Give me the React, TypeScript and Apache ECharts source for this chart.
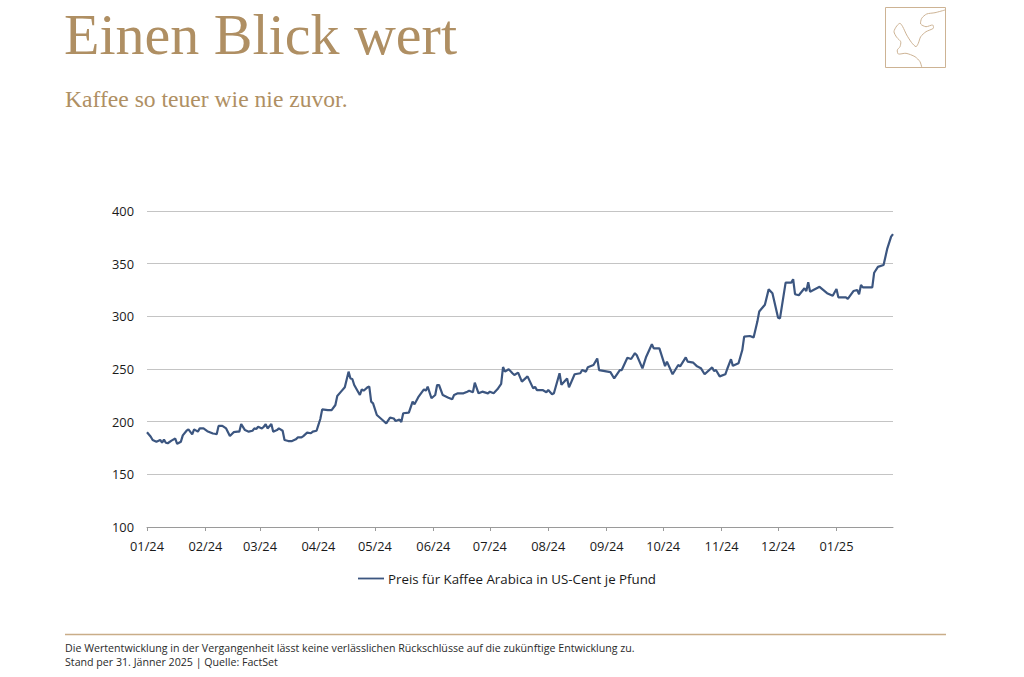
import React, { useEffect, useRef } from "react";
import * as echarts from "echarts";

const dates: string[] = [
  "2024-01-01","2024-01-03","2024-01-04","2024-01-06","2024-01-08","2024-01-09","2024-01-10","2024-01-11","2024-01-12","2024-01-14",
  "2024-01-16","2024-01-17","2024-01-19","2024-01-20","2024-01-22","2024-01-23","2024-01-25","2024-01-26","2024-01-28","2024-01-29",
  "2024-01-31","2024-02-02","2024-02-05","2024-02-06","2024-02-07","2024-02-08","2024-02-10","2024-02-12","2024-02-14","2024-02-16",
  "2024-02-18","2024-02-19","2024-02-20","2024-02-22","2024-02-24","2024-02-26","2024-02-27","2024-02-28","2024-02-29","2024-03-02",
  "2024-03-03","2024-03-04","2024-03-05","2024-03-07","2024-03-08","2024-03-10","2024-03-11","2024-03-13","2024-03-14","2024-03-16",
  "2024-03-18","2024-03-20","2024-03-21","2024-03-23","2024-03-24","2024-03-26","2024-03-28","2024-03-29","2024-03-31","2024-04-01",
  "2024-04-02","2024-04-03","2024-04-06","2024-04-08","2024-04-10","2024-04-11","2024-04-13","2024-04-15","2024-04-17","2024-04-18",
  "2024-04-19","2024-04-20","2024-04-23","2024-04-24","2024-04-25","2024-04-27","2024-04-28","2024-04-29","2024-04-30","2024-05-02",
  "2024-05-05","2024-05-07","2024-05-09","2024-05-11","2024-05-12","2024-05-14","2024-05-15","2024-05-16","2024-05-19","2024-05-21",
  "2024-05-22","2024-05-24","2024-05-27","2024-05-28","2024-05-29","2024-05-31","2024-06-02","2024-06-03","2024-06-04","2024-06-06",
  "2024-06-09","2024-06-11","2024-06-12","2024-06-14","2024-06-17","2024-06-19","2024-06-20","2024-06-22","2024-06-23","2024-06-25",
  "2024-06-27","2024-06-30","2024-07-01","2024-07-03","2024-07-05","2024-07-07","2024-07-08","2024-07-09","2024-07-11","2024-07-13",
  "2024-07-14","2024-07-16","2024-07-18","2024-07-21","2024-07-24","2024-07-25","2024-07-26","2024-07-29","2024-07-31","2024-08-01",
  "2024-08-03","2024-08-04","2024-08-07","2024-08-08","2024-08-11","2024-08-12","2024-08-15","2024-08-18","2024-08-19","2024-08-21",
  "2024-08-22","2024-08-25","2024-08-27","2024-08-28","2024-09-03","2024-09-05","2024-09-08","2024-09-09","2024-09-12","2024-09-14",
  "2024-09-16","2024-09-17","2024-09-20","2024-09-22","2024-09-25","2024-09-26","2024-09-29","2024-10-02","2024-10-03","2024-10-06",
  "2024-10-09","2024-10-10","2024-10-13","2024-10-14","2024-10-17","2024-10-19","2024-10-21","2024-10-23","2024-10-27","2024-10-28",
  "2024-10-29","2024-10-31","2024-11-03","2024-11-04","2024-11-06","2024-11-07","2024-11-10","2024-11-12","2024-11-13","2024-11-16",
  "2024-11-18","2024-11-20","2024-11-21","2024-11-24","2024-11-26","2024-11-28","2024-12-01","2024-12-02","2024-12-05","2024-12-08",
  "2024-12-09","2024-12-10","2024-12-12","2024-12-15","2024-12-16","2024-12-17","2024-12-18","2024-12-23","2024-12-27","2024-12-30",
  "2025-01-01","2025-01-02","2025-01-06","2025-01-07","2025-01-10","2025-01-12","2025-01-13","2025-01-14","2025-01-15","2025-01-20",
  "2025-01-21","2025-01-23","2025-01-26","2025-01-28","2025-01-30","2025-01-31"
];

const prices: number[] = [
  190, 185.7, 182.6, 181, 182.6, 180, 183, 180, 179.5, 182,
  184, 179, 181, 187, 191.4, 192.7, 188, 192.7, 190.5, 193.6,
  193.6, 191, 188.8, 188.5, 188, 196, 196, 193.6, 186.3, 190,
  190.5, 190.5, 197.7, 192, 190.5, 191.4, 193.6, 193, 195.2, 193.6,
  195.2, 197.5, 193.6, 197.7, 190.5, 192, 193.6, 191.4, 182.6, 181.6,
  181.6, 183.2, 185, 185, 186.3, 189.6, 189, 190.5, 191.4, 197,
  202.5, 211.7, 211, 211, 215.8, 224.4, 228.5, 232.6, 247.5, 241,
  240.5, 234.8, 225.3, 230.7, 229.4, 232.6, 233.3, 219, 217.4, 206.3,
  201.6, 198.4, 203.8, 203, 200.6, 202, 199.7, 208, 208.5, 219,
  216.5, 223.2, 230.7, 229.4, 233.3, 222.2, 225.3, 234.8, 234.8, 225.3,
  222.8, 221.2, 225.3, 226.9, 226.9, 228.5, 229.4, 227.9, 237, 226.9,
  228.5, 226.9, 228.5, 227, 230.7, 235.8, 251.9, 247.5, 249.8, 246,
  244.3, 246.5, 238, 243, 231.6, 233, 230, 230, 228, 230,
  226, 227, 246, 235, 241, 232.6, 245, 246, 249, 247.5,
  251.6, 253.8, 260, 249, 247, 241, 249, 249, 260.7, 259.5,
  265, 263, 250.6, 261.7, 273.5, 269.6, 269.6, 252.8, 257, 245,
  253.8, 252.5, 261, 257, 256, 252.5, 250.8, 245, 251.5, 248,
  249, 243, 245, 250, 259.3, 253, 255.4, 268, 280.7, 281.3,
  280, 295, 304.6, 311, 325.6, 322, 298.7, 298, 332, 332,
  335.2, 321, 320, 326.6, 324, 332.3, 323.4, 328, 322, 319.6,
  326, 318, 318, 316.5, 324, 325, 321, 329.7, 327.5, 327.5,
  341.4, 347, 348.7, 364.6, 375.6, 378
];

const yTicks: number[] = [100, 150, 200, 250, 300, 350, 400];
const monthTicks: string[] = [
  "2024-01-01","2024-02-01","2024-03-01","2024-04-01","2024-05-01","2024-06-01","2024-07-01",
  "2024-08-01","2024-09-01","2024-10-01","2024-11-01","2024-12-01","2025-01-01"
];
const monthLabels: string[] = [
  "01/24","02/24","03/24","04/24","05/24","06/24","07/24","08/24","09/24","10/24","11/24","12/24","01/25"
];
const startDate = "2024-01-01";
const endDate = "2025-01-31";

const seriesName = "Preis für Kaffee Arabica in US-Cent je Pfund";
const titleText = "Einen Blick wert";
const subtitleText = "Kaffee so teuer wie nie zuvor.";
const footer1 = "Die Wertentwicklung in der Vergangenheit lässt keine verlässlichen Rückschlüsse auf die zukünftige Entwicklung zu.";
const footer2 = "Stand per 31. Jänner 2025 | Quelle: FactSet";

const GOLD = "#af8f63";
const LINE = "#3c5680";

function dayIndex(s: string): number {
  const [y, m, d] = s.split("-").map(Number);
  const [y0, m0, d0] = startDate.split("-").map(Number);
  return Math.round((Date.UTC(y, m - 1, d) - Date.UTC(y0, m0 - 1, d0)) / 86400000);
}

export default function App() {
  const ref = useRef<HTMLDivElement>(null);
  useEffect(() => {
    if (!ref.current) return;
    const chart = echarts.init(ref.current, null, { renderer: "svg" });
    const monthIdx = monthTicks.map(dayIndex);
    const labelMap: Record<number, string> = {};
    monthIdx.forEach((v, i) => (labelMap[v] = monthLabels[i]));
    chart.setOption({
      animation: false,
      backgroundColor: "#ffffff",
      grid: { left: 147, right: 131, top: 211, bottom: 150, containLabel: false },
      xAxis: {
        type: "value",
        min: 0,
        max: dayIndex(endDate),
        axisLine: { show: true, lineStyle: { color: "#9a9a9a", width: 1 } },
        axisTick: { show: true, customValues: monthIdx, length: 4, lineStyle: { color: "#9a9a9a" } },
        splitLine: { show: false },
        axisLabel: {
          customValues: monthIdx,
          margin: 12,
          color: "#1a1a1a",
          fontSize: 12.8,
          fontFamily: "Open Sans",
          formatter: (v: number) => labelMap[Math.round(v)] ?? "",
        },
      },
      yAxis: {
        type: "value",
        min: yTicks[0],
        max: yTicks[yTicks.length - 1],
        interval: 50,
        axisLine: { show: false },
        axisTick: { show: false },
        axisLabel: { color: "#1a1a1a", fontSize: 12.8, fontFamily: "Open Sans", margin: 13 },
        splitLine: { show: true, lineStyle: { color: "#c4c4c4", width: 1 } },
      },
      legend: {
        left: 353,
        top: 567,
        itemWidth: 26,
        itemHeight: 10,
        itemGap: 5,
        icon: "path://M0,4.1 L26,4.1 L26,5.9 L0,5.9 Z",
        textStyle: { color: "#1a1a1a", fontSize: 13.3, fontFamily: "Open Sans", padding: [0, 0, 0, -1] },
        data: [seriesName],
      },
      series: [
        {
          name: seriesName,
          type: "line",
          symbol: "none",
          showSymbol: false,
          lineStyle: { color: LINE, width: 2.2 },
          itemStyle: { color: LINE },
          data: dates.map((d, i) => [dayIndex(d), prices[i]]),
        },
      ],
      graphic: [
        {
          type: "text",
          left: 64,
          top: 5,
          style: { text: titleText, fill: GOLD, font: "58px 'Liberation Serif', serif" },
        },
        {
          type: "text",
          left: 65,
          top: 87,
          style: { text: subtitleText, fill: GOLD, font: "23.6px 'Liberation Serif', serif" },
        },
        {
          type: "rect",
          shape: { x: 885.5, y: 7.5, width: 60, height: 60 },
          style: { fill: "none", stroke: "#cdb394", lineWidth: 1 },
        },
        {
          type: "polyline",
          x: 885,
          y: 7,
          shape: {
            smooth: 0.25,
            points: [
              [60, 3], [50, 5.7], [41.7, 7], [36.7, 11.3], [35.7, 17], [41, 19.7], [47.7, 18],
              [48.3, 21.3], [41, 24.7], [35.7, 29.7], [33.3, 36.3], [31, 39.7], [26.7, 35.7],
              [21.7, 28], [17.7, 19.7], [15, 16.3], [11.7, 19], [9, 24.7], [11.7, 30.3],
              [15.7, 34.7], [15, 39.7], [12.3, 43], [13.3, 47], [21, 46.3], [30, 49.7],
              [35, 54.7], [36.7, 60],
            ],
          },
          style: { fill: "none", stroke: "#cdb394", lineWidth: 1 },
        },
        {
          type: "line",
          shape: { x1: 65, y1: 634.5, x2: 946, y2: 634.5 },
          style: { stroke: "#c9ad88", lineWidth: 1.5 },
        },
        {
          type: "text",
          left: 65,
          top: 642,
          style: { text: footer1, fill: "#2a2a2a", font: "10.65px 'Open Sans', sans-serif" },
        },
        {
          type: "text",
          left: 65,
          top: 656,
          style: { text: footer2, fill: "#2a2a2a", font: "10.65px 'Open Sans', sans-serif" },
        },
      ],
    });
    return () => chart.dispose();
  }, []);
  return (
    <div
      ref={ref}
      style={{ position: "absolute", left: 0, top: 0, width: 1024, height: 677, background: "#fff" }}
    />
  );
}
